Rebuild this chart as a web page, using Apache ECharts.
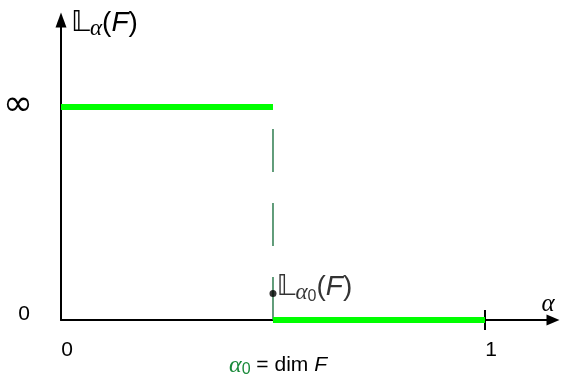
<!DOCTYPE html>
<html>
<head>
<meta charset="utf-8">
<script src="https://cdn.jsdelivr.net/npm/echarts@6/dist/echarts.min.js"></script>
<style>
  html, body { margin: 0; padding: 0; background: #fff; }
  #chart { width: 563px; height: 377px; }
</style>
</head>
<body>
<div id="chart"></div>
<script>
// values (alpha on x, L_alpha(F) on y; 1 on y stands for infinity)
const xTicks = [0, 0.5, 1];
const xTickLabels = ['0', 'α₀ = dim F', '1'];
const yTicks = [0, 1];
const yTickLabels = ['0', '∞'];
const upperSeg = [[0, 1], [0.5, 1]];
const lowerSeg = [[0.5, 0], [1, 0]];
const jumpLine = [[0.5, 0], [0.5, 0.9]];
const jumpPoint = [[0.5, 0.125]];

const green = '#00ff00';
const darkGreen = '#2e7d4f';
const mathFont = 'Liberation Serif';
const sansFont = 'Liberation Sans';

// rich styles for "L_alpha(F)" labels
function lRich() {
    return {
        L: { fontSize: 29, fontFamily: 'DejaVu Sans', color: '#000' },
        a: { fontSize: 23, fontFamily: mathFont, fontStyle: 'italic', color: '#000', padding: [12, 0, 0, 0] },
        s: { fontSize: 16, fontFamily: sansFont, color: '#000', padding: [18, 0, 0, 0] },
        p: { fontSize: 28, fontFamily: sansFont, color: '#000' },
        f: { fontSize: 28, fontFamily: sansFont, fontStyle: 'italic', color: '#000' }
    };
}

const chart = echarts.init(document.getElementById('chart'));

const option = {
    animation: false,
    grid: { left: 61, right: 10, top: 20, bottom: 57, outerBoundsMode: 'none' },
    xAxis: [
        {
            type: 'value',
            min: 0,
            max: 1.1604,
            name: 'α',
            nameLocation: 'end',
            nameGap: -5,
            nameTextStyle: {
                fontFamily: mathFont, fontStyle: 'italic', fontSize: 25, color: '#000',
                align: 'center', verticalAlign: 'bottom', padding: [0, 0, 3, 0]
            },
            splitLine: { show: false },
            axisLine: {
                onZero: false,
                symbol: ['none', 'triangle'],
                symbolSize: [11, 13],
                lineStyle: { color: '#000', width: 2 }
            },
            axisTick: { show: true, customValues: [1], length: 10, lineStyle: { color: '#000', width: 2 } },
            axisLabel: {
                customValues: xTicks,
                margin: 23,
                color: '#000',
                fontFamily: sansFont,
                fontSize: 20,
                lineHeight: 15,
                formatter: function (v) {
                    const i = xTicks.indexOf(v);
                    if (i === 1) return '\n{g|α}{gs|0}{n| = dim }{f|F}';
                    return '{d|' + xTickLabels[i] + '}';
                },
                rich: {
                    d: { fontSize: 21, fontFamily: sansFont, padding: [0, 0, 0, 12] },
                    g: { fontSize: 24, fontFamily: mathFont, fontStyle: 'italic', color: '#1a8a3a', padding: [0, 0, 0, 10] },
                    gs: { fontSize: 16, fontFamily: sansFont, color: '#1a8a3a', padding: [8, 0, 0, 0] },
                    n: { fontSize: 21, fontFamily: sansFont },
                    f: { fontSize: 21, fontFamily: sansFont, fontStyle: 'italic' }
                }
            }
        },
        {
            type: 'value',
            position: 'bottom',
            min: 0,
            max: 1.1604,
            splitLine: { show: false },
            axisLine: { show: false },
            axisLabel: { show: false },
            axisTick: { show: true, inside: true, customValues: [1], length: 10, lineStyle: { color: '#000', width: 2 } }
        }
    ],
    yAxis: {
        type: 'value',
        min: 0,
        max: 1.4085,
        name: '{L|𝕃}{a|α}{p|(}{f|F}{p|)}',
        nameLocation: 'end',
        nameGap: 0,
        nameTextStyle: {
            align: 'left',
            verticalAlign: 'middle',
            padding: [6, 0, 0, 10],
            rich: lRich()
        },
        splitLine: { show: false },
        axisLine: {
            onZero: false,
            symbol: ['none', 'triangle'],
            symbolSize: [11, 15],
            lineStyle: { color: '#000', width: 2 }
        },
        axisTick: { show: false },
        axisLabel: {
            customValues: yTicks,
            margin: 28,
            color: '#000',
            formatter: function (v) {
                const i = yTicks.indexOf(v);
                return i === 1 ? '{inf|' + yTickLabels[i] + '}' : '{z|' + yTickLabels[i] + '}';
            },
            rich: {
                z: { fontSize: 21, fontFamily: sansFont, padding: [0, 3, 12, 0] },
                inf: { fontSize: 36, fontFamily: 'DejaVu Sans', padding: [0, 0, 2, 0] }
            }
        }
    },
    series: [
        {
            type: 'line',
            data: upperSeg,
            symbol: 'none',
            lineStyle: { color: green, width: 6 },
            z: 3
        },
        {
            type: 'line',
            data: lowerSeg,
            symbol: 'none',
            lineStyle: { color: green, width: 6 },
            z: 3
        },
        {
            type: 'line',
            data: jumpLine,
            symbol: 'none',
            lineStyle: { color: darkGreen, width: 1.5, type: [43, 31] },
            z: 2
        },
        {
            type: 'scatter',
            data: jumpPoint,
            symbol: 'circle',
            symbolSize: 7,
            itemStyle: { color: '#000' },
            z: 4,
            label: {
                show: true,
                color: '#000',
                position: 'right',
                distance: 0,
                offset: [0, -6],
                formatter: '{L|𝕃}{a|α}{s|0}{p|(}{f|F}{p|)}',
                rich: lRich()
            }
        }
    ]
};

chart.setOption(option);
window.addEventListener('resize', () => chart.resize());
</script>
</body>
</html>
